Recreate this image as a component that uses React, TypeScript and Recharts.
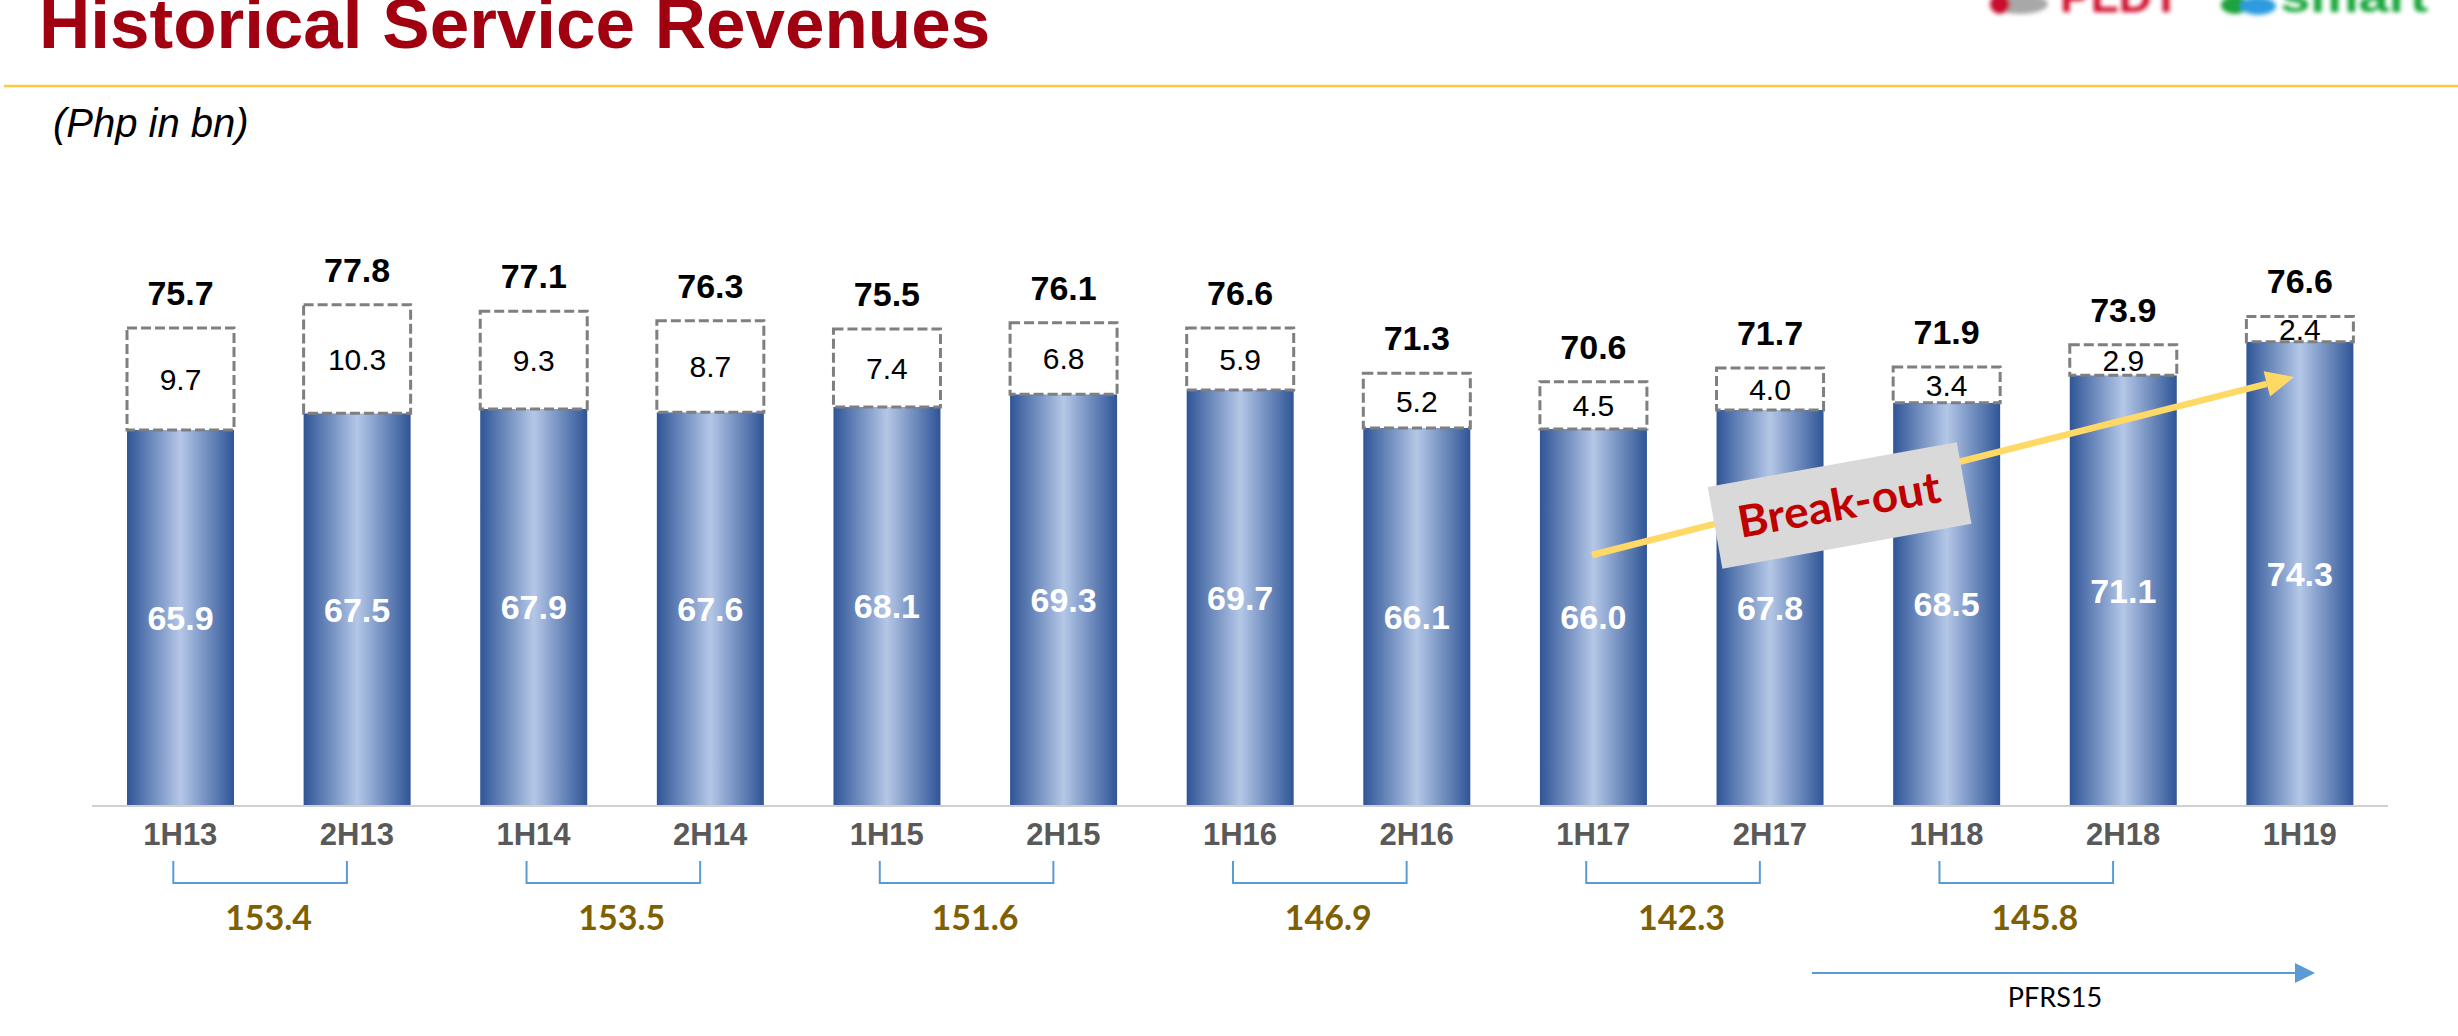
import React from 'react'
import { Bar, BarChart, LabelList, XAxis, YAxis } from 'recharts'

// half-year periods and values (Php bn)
const PERIODS = ['1H13', '2H13', '1H14', '2H14', '1H15', '2H15', '1H16', '2H16', '1H17', '2H17', '1H18', '2H18', '1H19']
const CORE = [65.9, 67.5, 67.9, 67.6, 68.1, 69.3, 69.7, 66.1, 66.0, 67.8, 68.5, 71.1, 74.3]
const OTHER = [9.7, 10.3, 9.3, 8.7, 7.4, 6.8, 5.9, 5.2, 4.5, 4.0, 3.4, 2.9, 2.4]
const TOTALS = [75.7, 77.8, 77.1, 76.3, 75.5, 76.1, 76.6, 71.3, 70.6, 71.7, 71.9, 73.9, 76.6]
const YEAR_TOTALS = [153.4, 153.5, 151.6, 146.9, 142.3, 145.8]

const data = PERIODS.map((period, i) => ({
  period,
  core: CORE[i],
  other: OTHER[i],
  total: TOTALS[i],
}))

const W = 2458
const H = 1036
const MARGIN = { top: 150, right: 70, bottom: 55, left: 92 }
const MAIN_AXIS_H = 45
const GROUP_AXIS_H = 130
const PLOT_BOTTOM = H - MARGIN.bottom - MAIN_AXIS_H - GROUP_AXIS_H
const BAND = (W - MARGIN.left - MARGIN.right) / PERIODS.length
const FONT = '"Liberation Sans", Arial, sans-serif'
const CALIBRI_LIKE = 'Lato, "Open Sans", sans-serif'

function boxOf(props: any) {
  const vb = props.viewBox ?? props
  return { x: Number(vb.x), y: Number(vb.y), width: Number(vb.width), height: Number(vb.height) }
}

function CoreLabel(props: any) {
  const { x, y, width, height } = boxOf(props)
  const bottom = Math.min(y + height, PLOT_BOTTOM)
  const cy = (y + bottom) / 2
  return (
    <text x={x + width / 2} y={cy + 12} textAnchor="middle" fontFamily={FONT} fontWeight="bold" fontSize={34} fill="#ffffff">
      {Number(props.value).toFixed(1)}
    </text>
  )
}

function OtherLabel(props: any) {
  const { x, y, width, height } = boxOf(props)
  return (
    <text x={x + width / 2} y={y + height / 2 + 11} textAnchor="middle" fontFamily={FONT} fontSize={30} fill="#000000">
      {Number(props.value).toFixed(1)}
    </text>
  )
}

function TotalLabel(props: any) {
  const { x, y, width } = boxOf(props)
  return (
    <text x={x + width / 2} y={y - 23} textAnchor="middle" fontFamily={FONT} fontWeight="bold" fontSize={34} fill="#000000">
      {Number(props.value).toFixed(1)}
    </text>
  )
}

function PeriodTick({ x, y, payload }: any) {
  return (
    <text x={x} y={y + 39} textAnchor="middle" fontFamily={FONT} fontWeight="bold" fontSize={31} fill="#595959">
      {payload.value}
    </text>
  )
}

// bracket under each pair of halves, with the full-year total
function GroupTick({ x, y, payload }: any) {
  const i = PERIODS.indexOf(payload.value)
  if (i % 2 === 1 || i / 2 >= YEAR_TOTALS.length) return <g />
  const x1 = x - 7
  const x2 = x + BAND - 10
  return (
    <g>
      <path d={`M${x1},${y + 10} V${y + 32} H${x2} V${y + 10}`} fill="none" stroke="#5B9BD5" strokeWidth={2} />
      <text x={x + BAND / 2} y={y + 79} textAnchor="middle" fontFamily={CALIBRI_LIKE} fontWeight="bold" fontSize={34} fill="#7F6000">
        {YEAR_TOTALS[i / 2].toFixed(1)}
      </text>
    </g>
  )
}

function arrowHead(x0: number, y0: number, x1: number, y1: number, len: number, half: number) {
  const d = Math.hypot(x1 - x0, y1 - y0)
  const ux = (x1 - x0) / d
  const uy = (y1 - y0) / d
  const bx = x1 - ux * len
  const by = y1 - uy * len
  return {
    base: [bx, by],
    points: `${x1},${y1} ${bx - uy * half},${by + ux * half} ${bx + uy * half},${by - ux * half}`,
  }
}

function Overlay() {
  const brk = arrowHead(1592, 555, 2294, 377, 28, 13)
  const pf = arrowHead(1812, 973, 2315, 973, 20, 10)
  return (
    <svg width={W} height={H} style={{ position: 'absolute', left: 0, top: 0, pointerEvents: 'none' }}>
      <defs>
        <filter id="soft">
          <feGaussianBlur stdDeviation="2" />
        </filter>
      </defs>

      {/* header */}
      <text x={39} y={48} fontFamily={FONT} fontWeight="bold" fontSize={71} fill="#A0000F">
        Historical Service Revenues
      </text>
      <line x1={4} y1={86} x2={W} y2={86} stroke="#FFC845" strokeWidth={2.5} />
      <text x={53} y={137} fontFamily={FONT} fontStyle="italic" fontSize={40} fill="#000000">
        (Php in bn)
      </text>

      {/* logos, cut off at the top edge */}
      <g filter="url(#soft)">
        <ellipse cx={2020} cy={4} rx={28} ry={10} fill="#A8A8A8" />
        <ellipse cx={2000} cy={4} rx={10} ry={10} fill="#C8102E" />
        <text x={2060} y={12} fontFamily={FONT} fontWeight="bold" fontSize={44} fill="#D0112B" textLength={120} lengthAdjust="spacingAndGlyphs">
          PLDT
        </text>
        <ellipse cx={2235} cy={5} rx={14} ry={9} fill="#1BA33A" />
        <ellipse cx={2258} cy={6} rx={18} ry={9} fill="#2D9BE0" />
        <text x={2280} y={12} fontFamily={FONT} fontWeight="bold" fontSize={44} fill="#13A538" textLength={148} lengthAdjust="spacingAndGlyphs">
          smart
        </text>
      </g>

      {/* break-out arrow */}
      <line x1={1592} y1={555} x2={brk.base[0]} y2={brk.base[1]} stroke="#FFD966" strokeWidth={6.5} />
      <polygon points={brk.points} fill="#FFD966" />
      <g transform="translate(1839,505) rotate(-10.2)">
        <rect x={-126} y={-41} width={253} height={83} fill="#D9D9D9" />
        <text x={0} y={15} textAnchor="middle" fontFamily={CALIBRI_LIKE} fontWeight="bold" fontSize={44} fill="#C00000" textLength={205} lengthAdjust="spacingAndGlyphs">
          Break-out
        </text>
      </g>

      {/* PFRS15 arrow */}
      <line x1={1812} y1={973} x2={pf.base[0]} y2={pf.base[1]} stroke="#5B9BD5" strokeWidth={2} />
      <polygon points={pf.points} fill="#5B9BD5" />
      <text x={2055} y={1007} textAnchor="middle" fontFamily={CALIBRI_LIKE} fontSize={27} fill="#000000">
        PFRS15
      </text>
    </svg>
  )
}

export default function App() {
  return (
    <div style={{ position: 'absolute', left: 0, top: 0, width: W, height: H, background: '#ffffff', overflow: 'hidden', fontFamily: FONT }}>
      <BarChart width={W} height={H} data={data} margin={MARGIN}>
        <defs>
          <linearGradient id="barGrad" x1="0" y1="0" x2="1" y2="0">
            <stop offset="0%" stopColor="#2F5597" />
            <stop offset="50%" stopColor="#B4C7E7" />
            <stop offset="100%" stopColor="#2F5597" />
          </linearGradient>
        </defs>
        <XAxis
          xAxisId="b"
          dataKey="period"
          height={GROUP_AXIS_H}
          interval={0}
          tickLine={false}
          tickSize={0}
          tickMargin={0}
          axisLine={false}
          tick={GroupTick}
        />
        <XAxis
          xAxisId="a"
          dataKey="period"
          height={MAIN_AXIS_H}
          interval={0}
          tickLine={false}
          tickSize={0}
          tickMargin={0}
          axisLine={{ stroke: '#D0D0D0', strokeWidth: 2 }}
          tick={PeriodTick}
        />
        <YAxis hide type="number" domain={[30.16, 92.52]} allowDataOverflow />
        <Bar xAxisId="a" dataKey="core" stackId="rev" barSize={107} fill="url(#barGrad)" isAnimationActive={false}>
          <LabelList dataKey="core" content={CoreLabel} />
        </Bar>
        <Bar
          xAxisId="a"
          dataKey="other"
          stackId="rev"
          barSize={107}
          fill="#ffffff"
          stroke="#7F7F7F"
          strokeWidth={3}
          strokeDasharray="10 4"
          isAnimationActive={false}
        >
          <LabelList dataKey="other" content={OtherLabel} />
          <LabelList dataKey="total" content={TotalLabel} />
        </Bar>
      </BarChart>
      <Overlay />
    </div>
  )
}
